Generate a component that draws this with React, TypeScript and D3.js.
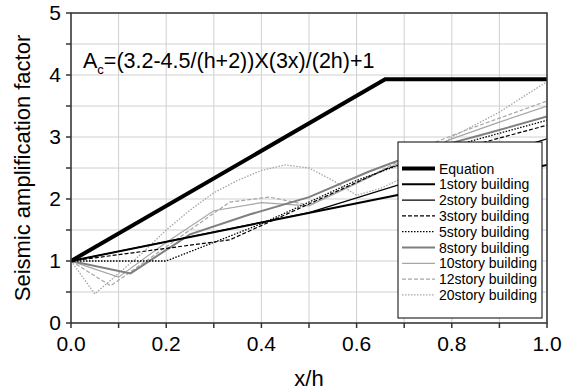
import React from "react";
import * as d3 from "d3";

const W = 574;
const H = 390;

const xTickValues = [0, 0.2, 0.4, 0.6, 0.8, 1.0];
const xTickLabels = ["0.0", "0.2", "0.4", "0.6", "0.8", "1.0"];
const yTickValues = [0, 1, 2, 3, 4, 5];
const yTickLabels = ["0", "1", "2", "3", "4", "5"];

const eqX = [0, 0.66, 1];
const eqY = [1, 3.93, 3.93];
const s1X = [0, 1];
const s1Y = [1, 2.55];
const s2X = [0, 0.5, 1];
const s2Y = [1, 1.78, 2.97];
const s3X = [0, 0.3333, 0.6667, 1];
const s3Y = [1, 1.34, 2.5, 3.19];
const s5X = [0, 0.2, 0.4, 0.6, 0.8, 1];
const s5Y = [1, 1.0, 1.6, 2.3, 2.85, 3.27];
const s8X = [0, 0.125, 0.25, 0.375, 0.5, 0.625, 0.75, 0.875, 1];
const s8Y = [1, 0.8, 1.43, 1.75, 2.03, 2.44, 2.8, 3.06, 3.33];
const s10X = [0, 0.1, 0.2, 0.3, 0.4, 0.5, 0.6, 0.7, 0.8, 0.9, 1];
const s10Y = [1, 0.74, 1.3, 1.81, 1.94, 1.89, 2.25, 2.62, 2.97, 3.24, 3.5];
const s12X = [0, 0.0833, 0.1667, 0.25, 0.3333, 0.4167, 0.5, 0.5833, 0.6667, 0.75, 0.8333, 0.9167, 1];
const s12Y = [1, 0.6, 1.05, 1.5, 1.95, 2.03, 1.9, 2.2, 2.52, 2.87, 3.12, 3.35, 3.58];
const s20X = [0, 0.05, 0.1, 0.15, 0.2, 0.25, 0.3, 0.35, 0.4, 0.45, 0.5, 0.55, 0.6, 0.65, 0.7, 0.75, 0.8, 0.85, 0.9, 0.95, 1];
const s20Y = [1, 0.47, 0.8, 1.13, 1.5, 1.82, 2.1, 2.3, 2.46, 2.55, 2.5, 2.3, 2.06, 2.17, 2.35, 2.7, 3.0, 3.2, 3.4, 3.65, 3.89];

const seriesLabels = [
  "Equation",
  "1story building",
  "2story building",
  "3story building",
  "5story building",
  "8story building",
  "10story building",
  "12story building",
  "20story building",
];

type Style = { color: string; width: number; dash?: string };
const styles: Style[] = [
  { color: "#000", width: 4 },
  { color: "#000", width: 2 },
  { color: "#000", width: 1.2 },
  { color: "#000", width: 1.2, dash: "4,2" },
  { color: "#000", width: 1.3, dash: "1.5,1.5" },
  { color: "#7f7f7f", width: 2 },
  { color: "#a6a6a6", width: 1.2 },
  { color: "#a6a6a6", width: 1.2, dash: "4,2" },
  { color: "#a6a6a6", width: 1.3, dash: "1.5,1.5" },
];

const seriesData: [number[], number[]][] = [
  [eqX, eqY],
  [s1X, s1Y],
  [s2X, s2Y],
  [s3X, s3Y],
  [s5X, s5Y],
  [s8X, s8Y],
  [s10X, s10Y],
  [s12X, s12Y],
  [s20X, s20Y],
];

export default function App() {
  const left = 71, right = 547, top = 13, bottom = 323;
  const x = d3.scaleLinear().domain([0, 1]).range([left, right]);
  const y = d3.scaleLinear().domain([0, 5]).range([bottom, top]);
  const line = d3
    .line<[number, number]>()
    .x((d) => x(d[0]))
    .y((d) => y(d[1]));

  const xGrid = d3.range(0, 11).map((i) => i / 10);
  const yGrid = d3.range(0, 11).map((i) => i / 2);

  const font = "Arial, 'Liberation Sans', sans-serif";

  const legX = 398, legY = 142, legW = 144, legH = 176;
  const legRow0 = 168.5, legStep = 15.8;

  const order = [8, 7, 6, 5, 4, 3, 2, 1, 0];

  return (
    <svg
      width={W}
      height={H}
      style={{ position: "absolute", left: 0, top: 0, background: "#fff" }}
      fontFamily={font}
    >
      <rect x={0} y={0} width={W} height={H} fill="#fff" />
      {xGrid.map((v) => (
        <line key={"gx" + v} x1={x(v)} x2={x(v)} y1={top} y2={bottom} stroke="#d0d0d0" strokeWidth={1} />
      ))}
      {yGrid.map((v) => (
        <line key={"gy" + v} x1={left} x2={right} y1={y(v)} y2={y(v)} stroke="#d0d0d0" strokeWidth={1} />
      ))}

      <defs>
        <clipPath id="plotclip">
          <rect x={left} y={top} width={right - left} height={bottom - top} />
        </clipPath>
      </defs>
      <g clipPath="url(#plotclip)">
        {order.map((i) => {
          const [xs, ys] = seriesData[i];
          const pts = xs.map((v, k) => [v, ys[k]] as [number, number]);
          const st = styles[i];
          return (
            <path
              key={"s" + i}
              d={line(pts) || ""}
              fill="none"
              stroke={st.color}
              strokeWidth={st.width}
              strokeDasharray={st.dash}
              strokeLinejoin="miter"
            />
          );
        })}
      </g>

      <rect x={left} y={top} width={right - left} height={bottom - top} fill="none" stroke="#333" strokeWidth={1.5} />
      {xGrid.map((v) => (
        <line key={"tx" + v} x1={x(v)} x2={x(v)} y1={bottom} y2={bottom + 5} stroke="#333" strokeWidth={1.5} />
      ))}
      {yGrid.map((v) => (
        <line key={"ty" + v} x1={left - 5} x2={left} y1={y(v)} y2={y(v)} stroke="#333" strokeWidth={1.5} />
      ))}
      {xTickValues.map((v, i) => (
        <text key={"xl" + i} x={x(v)} y={351} textAnchor="middle" fontSize={21} fill="#000">
          {xTickLabels[i]}
        </text>
      ))}
      {yTickValues.map((v, i) => (
        <text key={"yl" + i} x={61} y={y(v) + 7} textAnchor="end" fontSize={21} fill="#000">
          {yTickLabels[i]}
        </text>
      ))}
      <text x={(left + right) / 2} y={386} textAnchor="middle" fontSize={22} fill="#000">
        x/h
      </text>
      <text
        transform={`translate(30,${(top + bottom) / 2}) rotate(-90)`}
        textAnchor="middle"
        fontSize={22}
        fill="#000"
      >
        Seismic amplification factor
      </text>

      <text x={83} y={68} fontSize={21.5} fill="#000">
        A
        <tspan dy={6} fontSize={13}>c</tspan>
        <tspan dy={-6}>=(3.2-4.5/(h+2))X(3x)/(2h)+1</tspan>
      </text>

      <rect x={legX} y={legY} width={legW} height={legH} fill="#fff" stroke="#000" strokeWidth={1} />
      {seriesLabels.map((lab, i) => {
        const cy = legRow0 + i * legStep;
        const st = styles[i];
        return (
          <g key={"lg" + i}>
            <line x1={402} x2={435} y1={cy} y2={cy} stroke={st.color} strokeWidth={st.width} strokeDasharray={st.dash} />
            <text x={439} y={cy + 5} fontSize={14} fill="#000">
              {lab}
            </text>
          </g>
        );
      })}
    </svg>
  );
}
